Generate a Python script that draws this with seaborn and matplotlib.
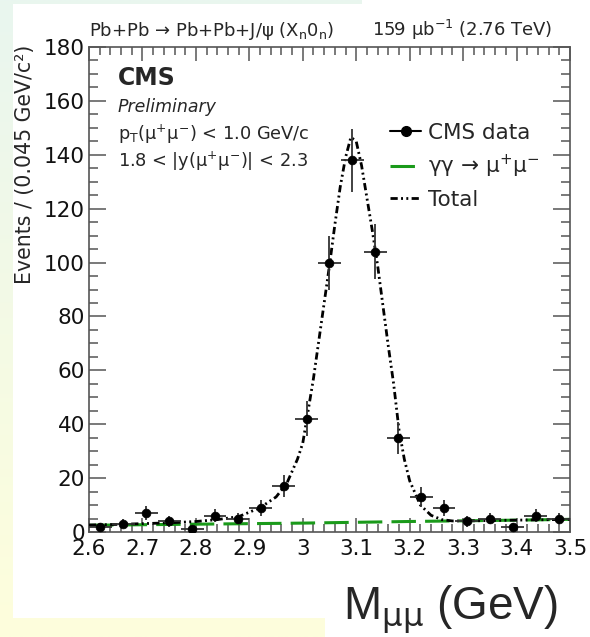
import numpy as np
import pandas as pd
import matplotlib
matplotlib.use("Agg")
import matplotlib.pyplot as plt
import seaborn as sns
from matplotlib.lines import Line2D
from matplotlib.patches import Rectangle
from matplotlib.transforms import Bbox, TransformedBbox
from matplotlib.ticker import MultipleLocator, FixedLocator, FixedFormatter

# ---------------- data ----------------
bin_centers = [2.6214, 2.6643, 2.7071, 2.7500, 2.7929, 2.8357, 2.8786, 2.9214,
               2.9643, 3.0071, 3.0500, 3.0929, 3.1357, 3.1786, 3.2214, 3.2643,
               3.3071, 3.3500, 3.3929, 3.4357, 3.4786]
counts = [2, 3, 7, 4, 1, 6, 5, 9, 17, 42, 100, 138, 104, 35, 13, 9, 4, 5, 2, 6, 5]
count_err = [1.4, 1.7, 2.6, 2.0, 1.0, 2.4, 2.2, 3.0, 4.1, 6.5, 10.0, 11.7, 10.2,
             5.9, 3.6, 3.0, 2.0, 2.2, 1.4, 2.4, 2.2]
bin_half_width = 0.0214

bkg_x = [2.60, 2.80, 3.00, 3.20, 3.40, 3.50]
bkg_y = [2.5, 2.9, 3.3, 3.9, 4.4, 4.7]

total_x = [2.60, 2.65, 2.70, 2.75, 2.80, 2.84, 2.88, 2.92, 2.95, 2.97, 2.99, 3.00,
           3.01, 3.02, 3.03, 3.04, 3.05, 3.06, 3.07, 3.08, 3.09, 3.10, 3.11, 3.12,
           3.13, 3.14, 3.15, 3.16, 3.17, 3.18, 3.19, 3.20, 3.22, 3.24, 3.26, 3.28,
           3.30, 3.40, 3.50]
total_y = [2.6, 2.8, 3.1, 3.4, 3.9, 4.6, 5.7, 9.0, 13, 18, 27, 33,
           45, 57, 71, 85, 99, 114, 128, 139, 146.5, 145, 136, 124,
           112, 99, 84, 69, 55, 38, 27, 19, 10, 6.2, 4.6, 4.1,
           4.1, 4.4, 4.7]

x_ticks = [2.6, 2.7, 2.8, 2.9, 3.0, 3.1, 3.2, 3.3, 3.4, 3.5]
x_tick_labels = ["2.6", "2.7", "2.8", "2.9", "3", "3.1", "3.2", "3.3", "3.4", "3.5"]
y_ticks = [0, 20, 40, 60, 80, 100, 120, 140, 160, 180]

legend_labels = ["CMS data", "γγ → μ$^{+}$μ$^{-}$", "Total"]

data_df = pd.DataFrame({"m": bin_centers, "n": counts, "err": count_err})
bkg_df = pd.DataFrame({"m": bkg_x, "n": bkg_y})
tot_df = pd.DataFrame({"m": total_x, "n": total_y})

# ---------------- style ----------------
sns.set_theme(style="ticks")
plt.rcParams["font.family"] = ["DejaVu Sans"]
plt.rcParams["mathtext.fontset"] = "dejavusans"

W, H = 590, 637
fig = plt.figure(figsize=(W / 100, H / 100), dpi=100)

# background gradient + white panel
bg = fig.add_axes([0, 0, 1, 1], zorder=-10)
top_c = np.array([233, 246, 239]) / 255.0
bot_c = np.array([254, 254, 220]) / 255.0
t = np.linspace(0, 1, 256)[:, None]
grad = (top_c[None, :] * (1 - t) + bot_c[None, :] * t)[:, None, :]
bg.imshow(grad, aspect="auto", extent=[0, 1, 0, 1], origin="upper")
bg.add_patch(Rectangle((13 / W, 1 - 618 / H), 1, 614 / H, color="white", lw=0))
bg.add_patch(Rectangle((325 / W, 0), 1, 0.05, color="white", lw=0))
bg.add_patch(Rectangle((362 / W, 1 - 5 / H), 1, 5 / H, color="white", lw=0))
bg.set_xlim(0, 1)
bg.set_ylim(0, 1)
bg.axis("off")

L, R, T, B = 89, 570, 47, 532
ax = fig.add_axes([L / W, 1 - B / H, (R - L) / W, (B - T) / H], zorder=1)
ax.set_facecolor("white")

# total curve
sns.lineplot(data=tot_df, x="m", y="n", ax=ax, color="black", lw=2.0,
             estimator=None, errorbar=None, sort=False, zorder=3)
tot_line = ax.lines[-1]
tot_line.set_dashes([2.6, 1.2, 0.7, 1.2, 0.7, 1.2])

# background curve
sns.lineplot(data=bkg_df, x="m", y="n", ax=ax, color="#1a9a1a", lw=2.2,
             estimator=None, errorbar=None, sort=False, zorder=2)
bkg_line = ax.lines[-1]
bkg_line.set_dashes([8, 3])

# data with error bars
ax.errorbar(data_df["m"], data_df["n"], yerr=data_df["err"], xerr=bin_half_width,
            fmt="none", ecolor="#333333", elinewidth=1.3, capsize=0, zorder=4)
sns.scatterplot(data=data_df, x="m", y="n", ax=ax, color="black", s=40,
                edgecolor="black", linewidth=0.5, zorder=5)

ax.set_xlim(2.6, 3.5)
ax.set_ylim(0, 180)
ax.xaxis.set_major_locator(FixedLocator(x_ticks))
ax.xaxis.set_major_formatter(FixedFormatter(x_tick_labels))
ax.xaxis.set_minor_locator(MultipleLocator(0.02))
ax.yaxis.set_major_locator(FixedLocator(y_ticks))
ax.yaxis.set_minor_locator(MultipleLocator(5))
ax.set_xlabel("")
ax.set_ylabel("")

spine_c = "#555555"
for s in ax.spines.values():
    s.set_color(spine_c)
    s.set_linewidth(1.2)
ax.tick_params(which="both", direction="in", top=True, right=True,
               color=spine_c, width=1.1, labelcolor="#111111")
ax.tick_params(axis="x", which="major", length=10, pad=5, labelsize=15.5)
ax.tick_params(axis="x", which="minor", length=5.5)
ax.tick_params(axis="y", which="major", length=12, pad=3, labelsize=15.5)
ax.tick_params(axis="y", which="minor", length=6.5)

# texts inside the plot
def axy(py):
    return (B - py) / (B - T)

def axx(px):
    return (px - L) / (R - L)

ax.text(axx(118), axy(85), "CMS", transform=ax.transAxes, fontsize=17,
        fontweight="bold", va="baseline", ha="left")
ax.text(axx(118), axy(112), "Preliminary", transform=ax.transAxes, fontsize=12.5,
        style="italic", va="baseline", ha="left")
ax.text(axx(118), axy(140), r"p$_\mathrm{T}$(μ$^{+}$μ$^{-}$) < 1.0 GeV/c",
        transform=ax.transAxes, fontsize=12.8, va="baseline", ha="left")
ax.text(axx(118), axy(167), r"1.8 < |y(μ$^{+}$μ$^{-}$)| < 2.3",
        transform=ax.transAxes, fontsize=12.8, va="baseline", ha="left")

# legend
handles = [
    Line2D([], [], color="black", lw=1.5, marker="o", markersize=7),
    Line2D([], [], color="#1a9a1a", lw=2.2, dashes=[8, 3]),
    Line2D([], [], color="black", lw=2.0, dashes=[2.6, 1.2, 0.7, 1.2, 0.7, 1.2]),
]
ax.legend(handles, legend_labels, loc="upper left",
          bbox_to_anchor=(axx(390), axy(123)), frameon=False, fontsize=15.5,
          handlelength=1.45, handletextpad=0.3, labelspacing=0.45,
          borderpad=0, borderaxespad=0)

# texts above plot
fig.text(L / W, 1 - 36 / H, r"Pb+Pb → Pb+Pb+J/ψ (X$_\mathrm{n}$0$_\mathrm{n}$)",
         fontsize=13, ha="left", va="baseline")
fig.text(552 / W, 1 - 36 / H, r"159 μb$^{-1}$ (2.76 TeV)",
         fontsize=13, ha="right", va="baseline")

# y label (clipped at left edge of the white panel)
yl = fig.text(35 / W, 1 - 45 / H, "Events / (0.045 GeV/c²)", rotation=90,
              fontsize=14.8, ha="right", va="top")
yl.set_clip_on(True)
yl.set_clip_box(TransformedBbox(Bbox([[13 / W, 0], [1, 1]]), fig.transFigure))

# x label
fig.text(558 / W, 1 - 620 / H, r"M$_{\mathrm{μμ}}$ (GeV)", fontsize=33,
         family=["Liberation Sans", "DejaVu Sans"], ha="right", va="baseline")

fig.savefig("out.png", dpi=100)
